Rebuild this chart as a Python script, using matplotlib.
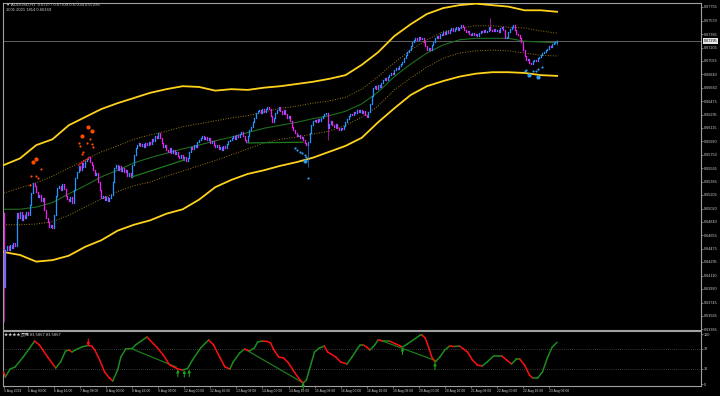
import matplotlib.pyplot as plt
from matplotlib.transforms import blended_transform_factory

# AUDUSD H1, bar 0 = 5 Aug 2024 09:00
first_open = 0.6496
closes = [
    0.6396, 0.6446, 0.6451, 0.6446, 0.6453, 0.6448, 0.6455, 0.6451, 0.6496, 0.6489,
    0.6497, 0.6486, 0.6493, 0.6489, 0.6497, 0.6493, 0.6507, 0.6523, 0.6537, 0.6533,
    0.6524, 0.6518, 0.6520, 0.6512, 0.6516, 0.6500, 0.6489, 0.6484, 0.6477, 0.6480,
    0.6476, 0.6493, 0.6519, 0.6530, 0.6533, 0.6527, 0.6535, 0.6529, 0.6519, 0.6515,
    0.6512, 0.6518, 0.6510, 0.6527, 0.6543, 0.6552, 0.6560, 0.6554, 0.6564, 0.6558,
    0.6567, 0.6569, 0.6572, 0.6565, 0.6561, 0.6554, 0.6548, 0.6550, 0.6538, 0.6527,
    0.6516, 0.6519, 0.6514, 0.6518, 0.6512, 0.6516, 0.6520, 0.6538, 0.6557, 0.6561,
    0.6554, 0.6560, 0.6553, 0.6557, 0.6552, 0.6554, 0.6546, 0.6550, 0.6545, 0.6561,
    0.6575, 0.6584, 0.6588, 0.6591, 0.6587, 0.6590, 0.6586, 0.6591, 0.6588, 0.6592,
    0.6590, 0.6596, 0.6594, 0.6600, 0.6598, 0.6605, 0.6598, 0.6591, 0.6586, 0.6588,
    0.6581, 0.6579, 0.6584, 0.6577, 0.6581, 0.6576, 0.6579, 0.6573, 0.6571, 0.6575,
    0.6568, 0.6572, 0.6567, 0.6571, 0.6579, 0.6586, 0.6583, 0.6588, 0.6586, 0.6592,
    0.6595, 0.6598, 0.6600, 0.6596, 0.6599, 0.6595, 0.6598, 0.6591, 0.6594, 0.6588,
    0.6586, 0.6588, 0.6583, 0.6586, 0.6581, 0.6587, 0.6584, 0.6590, 0.6594, 0.6595,
    0.6598, 0.6600, 0.6596, 0.6602, 0.6599, 0.6603, 0.6606, 0.6600, 0.6595, 0.6592,
    0.6600, 0.6609, 0.6613, 0.6619, 0.6625, 0.6632, 0.6634, 0.6636, 0.6632, 0.6637,
    0.6633, 0.6637, 0.6640, 0.6637, 0.6628, 0.6619, 0.6625, 0.6632, 0.6636, 0.6640,
    0.6634, 0.6630, 0.6636, 0.6630, 0.6625, 0.6628, 0.6621, 0.6613, 0.6609, 0.6605,
    0.6600, 0.6602, 0.6598, 0.6599, 0.6595, 0.6591, 0.6588, 0.6592, 0.6605, 0.6615,
    0.6621, 0.6622, 0.6619, 0.6624, 0.6621, 0.6625, 0.6628, 0.6630, 0.6632, 0.6611,
    0.6617, 0.6621, 0.6615, 0.6613, 0.6617, 0.6611, 0.6609, 0.6611, 0.6610, 0.6614,
    0.6619, 0.6624, 0.6628, 0.6630, 0.6629, 0.6633, 0.6632, 0.6636, 0.6633, 0.6636,
    0.6632, 0.6634, 0.6629, 0.6626, 0.6633, 0.6644, 0.6655, 0.6666, 0.6668, 0.6664,
    0.6670, 0.6667, 0.6672, 0.6676, 0.6679, 0.6676, 0.6681, 0.6683, 0.6686, 0.6685,
    0.6690, 0.6693, 0.6691, 0.6695, 0.6698, 0.6701, 0.6706, 0.6710, 0.6714, 0.6717,
    0.6723, 0.6728, 0.6731, 0.6733, 0.6731, 0.6735, 0.6732, 0.6733, 0.6728, 0.6723,
    0.6717, 0.6720, 0.6717, 0.6724, 0.6728, 0.6733, 0.6736, 0.6733, 0.6739, 0.6738,
    0.6742, 0.6739, 0.6743, 0.6740, 0.6744, 0.6747, 0.6743, 0.6746, 0.6748, 0.6744,
    0.6747, 0.6751, 0.6748, 0.6744, 0.6742, 0.6743, 0.6739, 0.6738, 0.6740, 0.6738,
    0.6739, 0.6736, 0.6740, 0.6743, 0.6742, 0.6744, 0.6742, 0.6743, 0.6748, 0.6744,
    0.6743, 0.6746, 0.6743, 0.6744, 0.6742, 0.6747, 0.6748, 0.6744, 0.6733, 0.6735,
    0.6742, 0.6746, 0.6748, 0.6751, 0.6744, 0.6739, 0.6738, 0.6733, 0.6728, 0.6717,
    0.6709, 0.6704, 0.6705, 0.6700, 0.6698, 0.6702, 0.6704, 0.6702, 0.6706, 0.6708,
    0.6710, 0.6713, 0.6714, 0.6717, 0.6718, 0.6723, 0.6721, 0.6725, 0.6727, 0.67277,
    0.67295,
]

# bars whose wicks stick out past the body
wick_bars = [0, 187, 199, 299, 340]
wick_highs = [0.6497, 0.6592, 0.6632, 0.6761, 0.67309]
wick_lows = [0.6348, 0.6558, 0.6595, 0.6744, 0.67234]

# channel lines, sampled every 10 bars
band_bars = list(range(0, 341, 10))
upper_outer = [0.6561, 0.6570, 0.6588, 0.6596, 0.6615, 0.6626, 0.6637, 0.6645, 0.6652, 0.6659,
               0.6664, 0.6668, 0.6667, 0.6662, 0.6664, 0.6663, 0.6666, 0.6668, 0.6671, 0.6674,
               0.6678, 0.6683, 0.6697, 0.6714, 0.6736, 0.6752, 0.6766, 0.6774, 0.6778, 0.6780,
               0.6778, 0.6776, 0.6771, 0.6771, 0.6769]
lower_outer = [0.6443, 0.6439, 0.6430, 0.6432, 0.6438, 0.6450, 0.6459, 0.6472, 0.6480, 0.6486,
               0.6495, 0.6501, 0.6514, 0.6531, 0.6541, 0.6549, 0.6554, 0.6560, 0.6565, 0.6571,
               0.6579, 0.6587, 0.6598, 0.6619, 0.6638, 0.6656, 0.6668, 0.6675, 0.6681, 0.6685,
               0.6687, 0.6687, 0.6686, 0.6683, 0.6682]
upper_inner = [0.6523, 0.6530, 0.6537, 0.6546, 0.6557, 0.6568, 0.6579, 0.6587, 0.6596, 0.6602,
               0.6607, 0.6613, 0.6617, 0.6621, 0.6625, 0.6628, 0.6633, 0.6638, 0.6641, 0.6645,
               0.6648, 0.6653, 0.6664, 0.6681, 0.6700, 0.6717, 0.6731, 0.6742, 0.6747, 0.6750,
               0.6750, 0.6748, 0.6747, 0.6743, 0.6740]
lower_inner = [0.6480, 0.6480, 0.6481, 0.6484, 0.6493, 0.6504, 0.6515, 0.6525, 0.6533, 0.6538,
               0.6546, 0.6553, 0.6560, 0.6567, 0.6575, 0.6583, 0.6591, 0.6596, 0.6599, 0.6603,
               0.6607, 0.6615, 0.6626, 0.6641, 0.6663, 0.6679, 0.6694, 0.6706, 0.6713, 0.6716,
               0.6717, 0.6716, 0.6713, 0.6710, 0.6709]
mid_line = [0.6501, 0.6501, 0.6504, 0.6510, 0.6522, 0.6533, 0.6545, 0.6554, 0.6564, 0.6571,
            0.6577, 0.6583, 0.6588, 0.6594, 0.6599, 0.6605, 0.6611, 0.6615, 0.6619, 0.6624,
            0.6628, 0.6634, 0.6644, 0.6660, 0.6681, 0.6698, 0.6713, 0.6724, 0.6731, 0.6733,
            0.6733, 0.6733, 0.6729, 0.6728, 0.6727]

# signal dots on the price chart
orange_big_bars = [52, 54, 48, 20, 18]
orange_big_prices = [0.6613, 0.6607, 0.6600, 0.6569, 0.6565]
orange_small_bars = [53, 51, 46, 54, 47, 55, 49, 48, 23, 17, 20, 21, 16]
orange_small_prices = [0.6596, 0.6591, 0.6591, 0.6590, 0.6587, 0.6586, 0.6579, 0.6576,
                       0.6556, 0.6546, 0.6546, 0.6543, 0.6534]
blue_big_bars = [185, 323, 328]
blue_big_prices = [0.6567, 0.6683, 0.6681]
blue_small_bars = [179, 180, 182, 183, 185, 186, 187, 320, 321, 325, 327, 328, 331]
blue_small_prices = [0.6584, 0.6581, 0.6579, 0.6577, 0.6575, 0.6572, 0.6543,
                     0.6689, 0.6690, 0.6689, 0.6689, 0.6691, 0.6694]

# divergence lines on price
price_div_bars = [(79, 111), (150, 184)]
price_div_prices = [(0.6545, 0.6568), (0.6591, 0.6592)]
price_red_bars = (46, 53)
price_red_prices = (0.6561, 0.6572)

# oscillator (0-100)
osc_bars = [0, 1, 4, 7, 12, 16, 19, 22, 27, 32, 35, 38, 40, 42, 44, 48, 52, 54, 56, 59,
            62, 65, 67, 70, 72, 75, 79, 81, 88, 94, 98, 102, 107, 110, 113, 116, 121, 124, 126, 129,
            133, 136, 139, 141, 145, 148, 151, 154, 156, 159, 162, 164, 166, 169, 172, 175, 179, 182, 184, 186,
            189, 191, 194, 197, 199, 204, 207, 211, 214, 218, 219, 221, 223, 225, 228, 230, 233, 237, 241, 245,
            248, 256, 257, 259, 261, 263, 265, 268, 271, 274, 277, 280, 285, 288, 291, 294, 297, 301, 304, 306,
            309, 312, 315, 317, 320, 323, 325, 328, 331, 334, 337, 340]
osc_vals = [24, 14, 30, 34, 54, 72, 86, 78, 54, 32, 44, 66, 68, 64, 68, 74, 77, 76, 68, 48,
            24, 12, 6, 28, 54, 70, 71, 78, 94, 74, 58, 38, 30, 28, 31, 48, 72, 82, 88, 78,
            52, 34, 30, 44, 62, 70, 66, 72, 84, 86, 85, 82, 68, 54, 52, 42, 22, 8, 2, 8,
            42, 64, 72, 76, 64, 54, 44, 40, 54, 74, 78, 78, 74, 68, 78, 88, 86, 86, 80, 74,
            80, 98, 98, 92, 74, 54, 44, 54, 68, 76, 75, 76, 64, 48, 38, 36, 44, 56, 56, 56,
            48, 40, 50, 50, 38, 18, 12, 12, 24, 52, 74, 83.59]
osc_div_bars = [(79, 106), (148, 183), (231, 266)]
osc_div_vals = [(70, 34), (70, 4), (88, 46)]
up_arrow_bars = [107, 111, 114, 184, 245, 265]
up_arrow_vals = [29, 28, 29, 3, 73, 43]
down_arrow_bars = [52]
down_arrow_vals = [76]

price_ticks = [0.67755, 0.67570, 0.67385, 0.67205, 0.67025, 0.66840, 0.66660, 0.66475, 0.66295,
               0.66115, 0.65930, 0.65750, 0.65565, 0.65385, 0.65205, 0.65020, 0.64840, 0.64655,
               0.64475, 0.64295, 0.64110, 0.63930, 0.63745, 0.63565, 0.63385]
time_bars = [0, 15, 31, 47, 63, 79, 95, 111, 127, 143, 159, 175, 191, 207, 223, 239, 255, 271,
             287, 303, 319, 335]
time_labels = ['5 Aug 2024', '6 Aug 00:00', '6 Aug 16:00', '7 Aug 08:00', '8 Aug 00:00',
               '8 Aug 16:00', '9 Aug 08:00', '12 Aug 00:00', '12 Aug 16:00', '13 Aug 08:00',
               '14 Aug 00:00', '14 Aug 16:00', '15 Aug 08:00', '16 Aug 00:00', '16 Aug 16:00',
               '19 Aug 08:00', '20 Aug 00:00', '20 Aug 16:00', '21 Aug 08:00', '22 Aug 00:00',
               '22 Aug 16:00', '23 Aug 08:00']

BULL = '#2492FF'
BEAR = '#F21EF0'
FRAME = '#A0A0A0'
TXT = '#CFCFCF'
plt.rcParams['font.family'] = ['Liberation Sans', 'DejaVu Sans']

fig = plt.figure(figsize=(7.2, 3.96), dpi=100)
fig.patch.set_facecolor('black')
ax = fig.add_axes([3 / 720, 66 / 396, 698 / 720, 327 / 396])
osc = fig.add_axes([3 / 720, 10 / 396, 698 / 720, 55 / 396])

for a in (ax, osc):
    a.set_facecolor('black')
    a.set_xlim(-0.4, 428.4)
    for s in a.spines.values():
        s.set_color(FRAME)
        s.set_linewidth(0.8)
    a.yaxis.tick_right()
    a.tick_params(axis='y', colors=FRAME, labelcolor=TXT, labelsize=2.7, length=1.5, width=0.5, pad=0.6)

# ---- price panel ----
ax.set_ylim(0.63372, 0.67809)
ax.set_xticks([])
ax.set_yticks(price_ticks)
ax.set_yticklabels([f'{v:.5f}' for v in price_ticks])

last = closes[-1]
ax.axhline(last, color='#6E6E6E', lw=0.6, zorder=1)
tr = blended_transform_factory(ax.transAxes, ax.transData)
ax.text(1.0035, last, f'{last:.5f}', transform=tr, fontsize=2.7, color='black', va='center',
        ha='left', bbox=dict(boxstyle='square,pad=0.2', fc='#E6E6E6', ec='none'), zorder=5)

ax.plot(band_bars, upper_outer, color='#FFD21C', lw=1.3, zorder=3)
ax.plot(band_bars, lower_outer, color='#FFD21C', lw=1.3, zorder=3)
ax.plot(band_bars, upper_inner, color='#9C7A14', lw=0.7, ls=(0, (1, 1.6)), zorder=2)
ax.plot(band_bars, lower_inner, color='#9C7A14', lw=0.7, ls=(0, (1, 1.6)), zorder=2)
ax.plot(band_bars, mid_line, color='#1E6E1E', lw=0.8, zorder=2)

# candles
bars = list(range(len(closes)))
opens = [first_open] + closes[:-1]
body_hi = [max(o, c) for o, c in zip(opens, closes)]
body_lo = [min(o, c) for o, c in zip(opens, closes)]
highs = list(body_hi)
lows = list(body_lo)
for b, h, l in zip(wick_bars, wick_highs, wick_lows):
    highs[b] = max(highs[b], h)
    lows[b] = min(lows[b], l)
cols = [BULL if c >= o else BEAR for o, c in zip(opens, closes)]
ax.vlines(bars, lows, highs, colors=cols, linewidth=0.45, zorder=4)
bodies = ax.vlines(bars, body_lo, body_hi, colors=cols, linewidth=0.9, zorder=4)
bodies.set_capstyle('projecting')

for bx, py in zip(price_div_bars, price_div_prices):
    ax.plot(bx, py, color='#1E7B1E', lw=0.9, zorder=4)
ax.plot(price_red_bars, price_red_prices, color='#E01818', lw=0.9, zorder=5)

ax.scatter(orange_big_bars, orange_big_prices, s=9, color='#FF4A00', lw=0, zorder=6)
ax.scatter(orange_small_bars, orange_small_prices, s=2.5, color='#FF4A00', lw=0, zorder=6)
ax.scatter(blue_big_bars, blue_big_prices, s=9, color='#2E9BF0', lw=0, zorder=6)
ax.scatter(blue_small_bars, blue_small_prices, s=2.5, color='#2E9BF0', lw=0, zorder=6)

fig.text(6 / 720, 1 - 5 / 396, '\u25bc AUDUSD,H1  0.67277 0.67309 0.67234 0.67295',
         fontsize=3.0, color=TXT, va='center')
fig.text(6 / 720, 1 - 10 / 396, '1001 2021 1814 0.66169', fontsize=3.0, color=TXT, va='center')

# ---- oscillator panel ----
osc.set_ylim(-4, 106)
osc.set_yticks([0, 30, 70, 100])
osc.set_yticklabels(['0', '30', '70', '100'])
for lvl in (30, 70):
    osc.axhline(lvl, color='#6A6A6A', lw=0.5, ls=(0, (1, 2)), zorder=1)

for k in range(len(osc_bars) - 1):
    v0, v1 = osc_vals[k], osc_vals[k + 1]
    c = '#1E8C1E' if v1 >= v0 else '#FF1010'
    osc.plot(osc_bars[k:k + 2], osc_vals[k:k + 2], color=c, lw=1.1, solid_capstyle='round', zorder=3)

for bx, vy in zip(osc_div_bars, osc_div_vals):
    osc.plot(bx, vy, color='#1E7B1E', lw=0.9, zorder=2)

for b, v in zip(up_arrow_bars, up_arrow_vals):
    osc.annotate('', xy=(b, v), xytext=(b, v - 14),
                 arrowprops=dict(arrowstyle='-|>', color='#1E9A1E', lw=0.8, mutation_scale=4,
                                 shrinkA=0, shrinkB=0), zorder=4)
for b, v in zip(down_arrow_bars, down_arrow_vals):
    osc.annotate('', xy=(b, v), xytext=(b, v + 14),
                 arrowprops=dict(arrowstyle='-|>', color='#FF1010', lw=0.8, mutation_scale=4,
                                 shrinkA=0, shrinkB=0), zorder=4)

osc.set_xticks(time_bars)
osc.set_xticklabels(time_labels, ha='left')
osc.tick_params(axis='x', colors=FRAME, labelcolor=TXT, labelsize=2.4, length=1.5, width=0.5, pad=0.8)

fig.text(4 / 720, 1 - 335 / 396, '\u2605\u2605\u2605\u2605\u9876\u5e95 83.5867 83.5867',
         fontsize=3.0, color=TXT, va='center', family=['Noto Sans CJK SC', 'DejaVu Sans'])

fig.savefig('out.png', dpi=100, facecolor='black')
